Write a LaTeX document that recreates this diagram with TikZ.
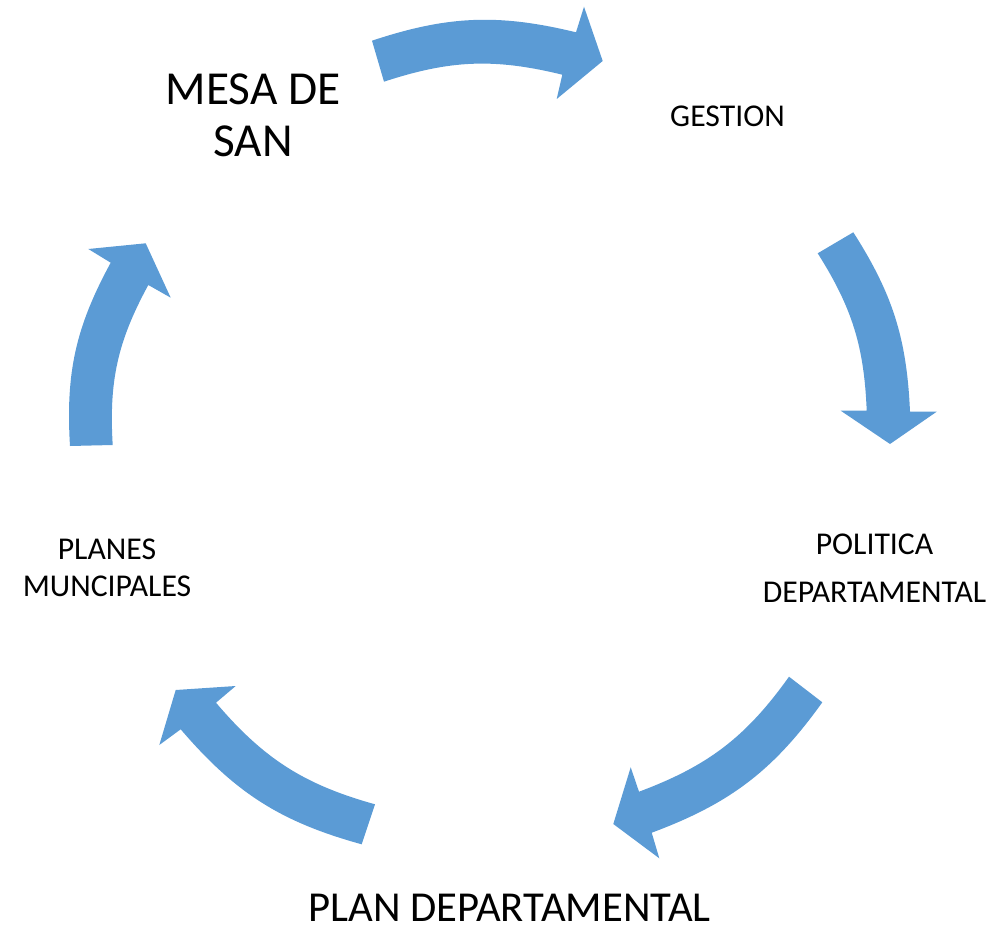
\documentclass[tikz,border=0pt]{standalone}
\usepackage{fontspec}
\setmainfont{Carlito}
\usepackage{tikz}
\definecolor{arrowblue}{RGB}{91,155,213}
\tikzset{
  cyclearrow/.style={fill=arrowblue, draw=none},
  cycletext/.style={anchor=base, inner sep=0.75pt, align=center, text=black},
  smalltext/.style={cycletext, font=\fontsize{23.8}{27.4}\selectfont},
  bigtext/.style={cycletext, font=\fontsize{35.5}{39.5}\selectfont}
}

\begin{document}
\begin{tikzpicture}[x=0.75pt,y=0.75pt,yscale=-1,xscale=1]
\useasboundingbox (0,0) rectangle (999,927);

%Shape: Curved Arrow (mesa -> gestion)
\fill [cyclearrow] (372,40.7) to[bend right=16] (576,32.3) -- (584,6.7) -- (602.7,61) -- (556.7,99) -- (562.3,74.7) to[bend left=16] (384,81.7) -- cycle ;
%Shape: Curved Arrow (gestion -> politica)
\fill [cyclearrow] (853.3,232.3) to[bend right=15] (910,411.7) -- (936.7,411.7) -- (890,444) -- (840.7,410.7) -- (866.7,410.7) to[bend left=15] (817.7,253.3) -- cycle ;
%Shape: Curved Arrow (politica -> plan)
\fill [cyclearrow] (822.3,702.3) to[bend right=17] (651.7,832.7) -- (659.3,858.3) -- (613.3,824) -- (630.7,767.3) -- (639,791.7) to[bend left=17] (789,676.7) -- cycle ;
%Shape: Curved Arrow (plan -> planes)
\fill [cyclearrow] (361.7,844.3) to[bend right=17] (180.7,729.3) -- (159.3,745) -- (175.7,690) -- (235.7,686) -- (216,702.7) to[bend left=17] (375,804.3) -- cycle ;
%Shape: Curved Arrow (planes -> mesa)
\fill [cyclearrow] (70,446) to[bend right=16] (110.7,262.7) -- (88.3,249) -- (145.7,243.3) -- (170.7,297.7) -- (148.3,285) to[bend left=16] (112.7,445) -- cycle ;

% Text Node
\node (mesa) [bigtext] at (253,156.7) {MESA DE\\SAN};
% Text Node
\node (gestion) [smalltext] at (727.5,126.7) {GESTION};
% Text Node
\node (politica) [smalltext, font=\fontsize{23.8}{35.5}\selectfont] at (874.5,602) {POLITICA\\DEPARTAMENTAL};
% Text Node
\node (plan) [cycletext, font=\fontsize{32}{37}\selectfont] at (509.5,921) {PLAN DEPARTAMENTAL};
% Text Node
\node (planes) [smalltext] at (107,596) {PLANES\\MUNCIPALES};

\end{tikzpicture}
\end{document}
